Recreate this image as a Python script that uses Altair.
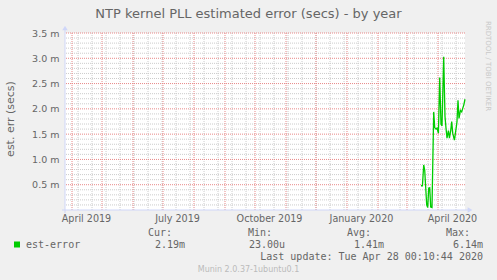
import altair as alt
import pandas as pd

# ---- data (est. error, in milliseconds) ----
dates = [
    "2020-03-15T00:00:00Z", "2020-03-16T10:00:00Z", "2020-03-17T17:00:00Z", "2020-03-18T17:00:00Z",
    "2020-03-19T17:00:00Z", "2020-03-20T17:00:00Z", "2020-03-21T17:00:00Z", "2020-03-22T17:00:00Z",
    "2020-03-23T17:00:00Z", "2020-03-24T17:00:00Z", "2020-03-26T00:00:00Z", "2020-03-27T17:00:00Z",
    "2020-03-28T17:00:00Z", "2020-03-30T00:00:00Z", "2020-03-31T00:00:00Z", "2020-04-01T10:00:00Z",
    "2020-04-02T17:00:00Z", "2020-04-04T00:00:00Z", "2020-04-05T00:00:00Z", "2020-04-06T17:00:00Z",
    "2020-04-08T00:00:00Z", "2020-04-09T00:00:00Z", "2020-04-10T00:00:00Z", "2020-04-11T10:00:00Z",
    "2020-04-12T10:00:00Z", "2020-04-13T17:00:00Z", "2020-04-14T17:00:00Z", "2020-04-15T17:00:00Z",
    "2020-04-17T10:00:00Z", "2020-04-19T10:00:00Z", "2020-04-20T00:00:00Z", "2020-04-21T00:00:00Z",
    "2020-04-22T00:00:00Z", "2020-04-23T10:00:00Z", "2020-04-24T17:00:00Z", "2020-04-25T17:00:00Z",
    "2020-04-26T17:00:00Z", "2020-04-28T00:00:00Z",
]
err_ms = [
    0.48, 0.48, 0.89, 0.79,
    0.44, 0.10, 0.05, 0.43,
    0.44, 0.06, 0.05, 1.94,
    1.63, 1.60, 1.62, 1.52,
    2.62, 1.70, 1.66, 3.03,
    1.85, 1.62, 1.42, 1.57,
    1.42, 1.57, 1.75, 1.52,
    1.38, 1.66, 1.75, 2.17,
    1.81, 1.97, 1.94, 2.01,
    2.07, 2.19,
]

x_labels = ["April 2019", "July 2019", "October 2019", "January 2020", "April 2020"]
x_label_dates = [(2019, 4), (2019, 7), (2019, 10), (2020, 1), (2020, 4)]
y_tick_values = [0.5, 1.0, 1.5, 2.0, 2.5, 3.0, 3.5]

legend_name = "est-error"
stat_heads = ["Cur:", "Min:", "Avg:", "Max:"]
stat_vals = ["2.19m", "23.00u", "1.41m", "6.14m"]

# grid positions
month_starts = [d.strftime("%Y-%m-%dT00:00:00Z") for d in pd.date_range("2019-04-01", "2020-04-01", freq="MS")]
minor_days = [d.strftime("%Y-%m-%dT00:00:00Z") for d in pd.date_range("2019-04-07", "2020-04-27", freq="14D")]
minor_y = [round(i * 0.1, 1) for i in range(1, 35) if i % 5]

OX, OY = 65, 33
W, H = 400, 177
FONT = "#666666"
AXIS = "#CFD6F8"

xscale = alt.Scale(type="utc",
                   domain=[alt.DateTime(year=2019, month=3, date=25, utc=True),
                           alt.DateTime(year=2020, month=4, date=28, utc=True)])
yscale = alt.Scale(domain=[0, 3.5], nice=False, zero=False)

label_vals = [alt.DateTime(year=y, month=m, date=15, utc=True) for (y, m) in x_label_dates]
label_map = "{" + ",".join(
    "'%d-%d': '%s'" % (y, m, s) for (y, m), s in zip(x_label_dates, x_labels)) + "}"

xaxis = alt.Axis(values=label_vals,
                 labelExpr="utcFormat(datum.value, '%B %Y')",
                 tickSize=0, domain=False, grid=False, title=None,
                 labelFont="DejaVu Sans", labelFontSize=9.6, labelColor=FONT,
                 labelPadding=3, labelOverlap=False, labelFlush=False)
yaxis = alt.Axis(values=y_tick_values, labelExpr="format(datum.value, '.1f') + ' m'",
                 tickSize=0, domain=False, grid=False, title=None,
                 labelFont="DejaVu Sans", labelFontSize=9.5, labelColor=FONT,
                 labelPadding=6)

df = pd.DataFrame({"date": dates, "err": err_ms})

vminor = alt.Chart(pd.DataFrame({"d": minor_days})).mark_rule(
    color="#CCCCCC", strokeWidth=1, strokeDash=[1, 1]).encode(x=alt.X("d:T", scale=xscale, axis=xaxis))
vmajor = alt.Chart(pd.DataFrame({"d": month_starts})).mark_rule(
    color="#E88888", strokeWidth=1, strokeDash=[1, 1]).encode(x=alt.X("d:T", scale=xscale, axis=xaxis))
hminor = alt.Chart(pd.DataFrame({"v": minor_y})).mark_rule(
    color="#CCCCCC", strokeWidth=1, strokeDash=[1, 1]).encode(y=alt.Y("v:Q", scale=yscale, axis=yaxis))
hmajor = alt.Chart(pd.DataFrame({"v": y_tick_values})).mark_rule(
    color="#E88888", strokeWidth=1, strokeDash=[1, 1]).encode(y=alt.Y("v:Q", scale=yscale, axis=yaxis))

line = alt.Chart(df).mark_line(color="#00CC00", strokeWidth=1.3, interpolate="linear").encode(
    x=alt.X("date:T", scale=xscale, axis=xaxis),
    y=alt.Y("err:Q", scale=yscale, axis=yaxis),
)

one = pd.DataFrame({"k": [0]})
xaxis_line = alt.Chart(one).mark_rule(color=AXIS, strokeWidth=1).encode(
    x=alt.value(-3), x2=alt.value(W + 4), y=alt.value(H))
yaxis_line = alt.Chart(one).mark_rule(color=AXIS, strokeWidth=1).encode(
    x=alt.value(0), y=alt.value(H + 3), y2=alt.value(-4))
arrow_r = alt.Chart(one).mark_point(shape="triangle-right", filled=True, color=AXIS, size=30, opacity=1).encode(
    x=alt.value(W + 5), y=alt.value(H))
arrow_u = alt.Chart(one).mark_point(shape="triangle-up", filled=True, color=AXIS, size=30, opacity=1).encode(
    x=alt.value(0), y=alt.value(-5))


def txt(s, x, y, size=10, font="DejaVu Sans Mono", align="left", color=FONT, angle=0, baseline="middle"):
    return alt.Chart(pd.DataFrame({"t": [s]})).mark_text(
        font=font, fontSize=size, align=align, baseline=baseline, color=color, angle=angle
    ).encode(x=alt.value(x - OX), y=alt.value(y - OY), text="t:N")


texts = [
    txt("NTP kernel PLL estimated error (secs) - by year", 248.5, 18, size=13, font="DejaVu Sans",
        align="center", baseline="alphabetic"),
    txt("est. err (secs)", 11, 119, size=11, font="DejaVu Sans", align="center", angle=270),
    txt("RRDTOOL / TOBI OETIKER", 488, 66, size=7, font="DejaVu Sans", align="center",
        color="#C8C8C8", angle=90),
    txt(legend_name, 26, 244.5),
    txt("Last update: Tue Apr 28 00:10:44 2020", 483, 256.5, align="right"),
    txt("Munin 2.0.37-1ubuntu0.1", 248.5, 269.5, size=8, font="DejaVu Sans", align="center", color="#BBBBBB"),
]
head_right = [172, 272, 371, 470]
val_right = [185, 285, 384, 483]
for h, v, hr, vr in zip(stat_heads, stat_vals, head_right, val_right):
    texts.append(txt(h, hr, 233, align="right"))
    texts.append(txt(v, vr, 244.5, align="right"))

legend_sq = alt.Chart(one).mark_rect(color="#00CC00").encode(
    x=alt.value(14 - OX), x2=alt.value(20 - OX), y=alt.value(241.5 - OY), y2=alt.value(247.5 - OY))

chart = alt.layer(
    vminor, hminor, vmajor, hmajor, line, xaxis_line, yaxis_line, arrow_r, arrow_u, legend_sq, *texts
).properties(
    width=W, height=H,
    autosize=alt.AutoSizeParams(type="none"),
    padding={"left": OX, "top": OY, "right": 497 - OX - W, "bottom": 280 - OY - H},
    background="#F0F0F0",
).configure_view(fill="#FFFFFF", stroke=None)

chart.save("out.html", embed_options={"renderer": "svg", "actions": False})
